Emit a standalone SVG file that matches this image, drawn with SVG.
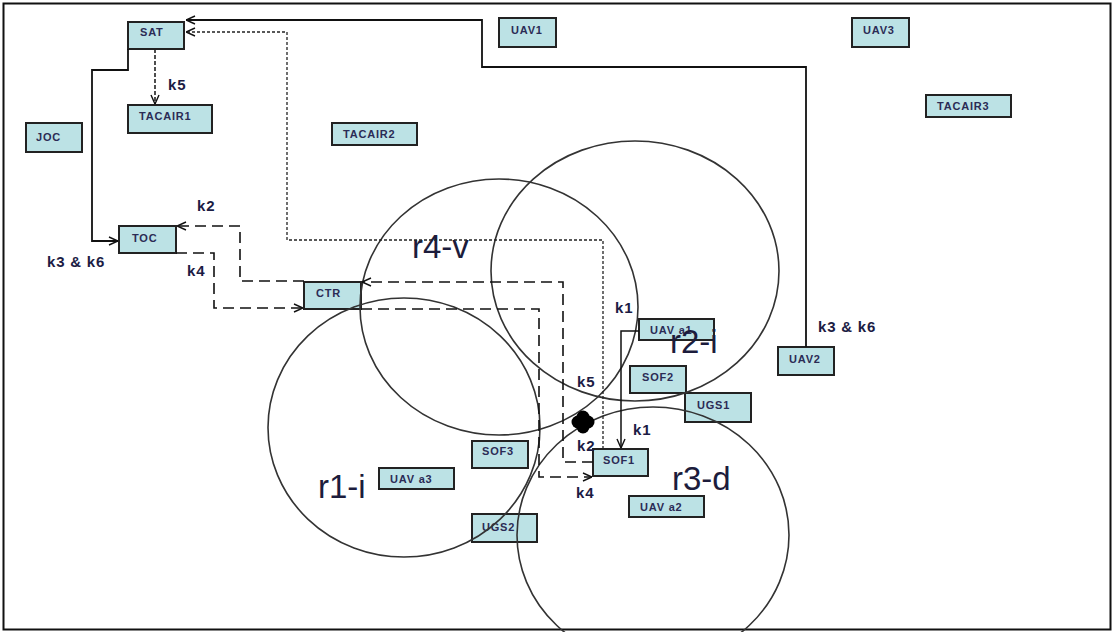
<svg xmlns="http://www.w3.org/2000/svg" width="1115" height="632" viewBox="0 0 1115 632">
<style>
.box{fill:#bce2e5;stroke:#222;stroke-width:2}
.nt{font-family:"Liberation Sans",Arial,sans-serif;font-size:11px;font-weight:bold;fill:#2b2b55;letter-spacing:0.8px}
.kl{font-family:"Liberation Sans",Arial,sans-serif;font-size:15px;font-weight:bold;fill:#1c1c44;letter-spacing:0.8px}
.rl{font-family:"Liberation Sans",Arial,sans-serif;font-size:33px;fill:#1c1c3c}
.ring{fill:none;stroke:#333;stroke-width:1.6}
.solid{fill:none;stroke:#111;stroke-width:1.8}
.sdash{fill:none;stroke:#222;stroke-width:1.6;stroke-dasharray:4 2}
.dot{fill:none;stroke:#222;stroke-width:1.3;stroke-dasharray:3 2}
.ldash{fill:none;stroke:#111;stroke-width:1.6;stroke-dasharray:11 6}
</style>
<defs>
<marker id="arr" viewBox="0 0 10 10" refX="10" refY="5" markerWidth="10" markerHeight="10" markerUnits="userSpaceOnUse" orient="auto">
<path d="M1,1 L10,5 L1,9" fill="none" stroke="#111" stroke-width="1.4"/>
</marker>
</defs>
<rect x="0" y="0" width="1115" height="632" fill="#fff"/>
<rect x="3.5" y="3.5" width="1107" height="626" fill="none" stroke="#111" stroke-width="2"/>

<g id="SAT"><rect class="box" x="128" y="22" width="56" height="27"/><text class="nt" x="140" y="36">SAT</text></g>
<g id="TACAIR1"><rect class="box" x="128" y="105" width="84" height="28"/><text class="nt" x="139" y="120">TACAIR1</text></g>
<g id="JOC"><rect class="box" x="26" y="123" width="56" height="29"/><text class="nt" x="36" y="141">JOC</text></g>
<g id="UAV1"><rect class="box" x="499" y="18" width="57" height="29"/><text class="nt" x="511" y="34">UAV1</text></g>
<g id="TACAIR2"><rect class="box" x="332" y="123" width="85" height="22"/><text class="nt" x="343" y="138">TACAIR2</text></g>
<g id="UAV3"><rect class="box" x="852" y="18" width="57" height="29"/><text class="nt" x="863" y="34">UAV3</text></g>
<g id="TACAIR3"><rect class="box" x="926" y="95" width="85" height="22"/><text class="nt" x="937" y="110">TACAIR3</text></g>
<g id="TOC"><rect class="box" x="119" y="226" width="57" height="27"/><text class="nt" x="132" y="242">TOC</text></g>
<g id="CTR"><rect class="box" x="304" y="282" width="57" height="27"/><text class="nt" x="316" y="297">CTR</text></g>
<g id="UAV_a1"><rect class="box" x="639" y="319" width="75" height="21"/><text class="nt" x="650" y="334">UAV a1</text></g>
<g id="SOF2"><rect class="box" x="630" y="366" width="56" height="27"/><text class="nt" x="642" y="381">SOF2</text></g>
<g id="UGS1"><rect class="box" x="685" y="393" width="66" height="29"/><text class="nt" x="697" y="409">UGS1</text></g>
<g id="SOF1"><rect class="box" x="593" y="449" width="55" height="27"/><text class="nt" x="603" y="464">SOF1</text></g>
<g id="SOF3"><rect class="box" x="472" y="441" width="56" height="27"/><text class="nt" x="482" y="455">SOF3</text></g>
<g id="UAV_a3"><rect class="box" x="379" y="468" width="75" height="21"/><text class="nt" x="390" y="483">UAV a3</text></g>
<g id="UGS2"><rect class="box" x="472" y="514" width="65" height="28"/><text class="nt" x="482" y="531">UGS2</text></g>
<g id="UAV_a2"><rect class="box" x="629" y="496" width="75" height="21"/><text class="nt" x="640" y="511">UAV a2</text></g>
<g id="UAV2"><rect class="box" x="778" y="347" width="56" height="28"/><text class="nt" x="789" y="363">UAV2</text></g>

<g id="regions">
<ellipse class="ring" cx="404" cy="427.5" rx="136" ry="129.5"/>
<ellipse class="ring" cx="499" cy="307" rx="139" ry="128"/>
<ellipse class="ring" cx="635" cy="271" rx="144" ry="130"/>
<ellipse class="ring" cx="653" cy="535" rx="136" ry="128"/>
<text class="rl" x="318" y="498">r1-i</text>
<text class="rl" x="412" y="258">r4-v</text>
<text class="rl" x="670" y="353">r2-i</text>
<text class="rl" x="672" y="490">r3-d</text>
</g>

<g id="connectors">
<path class="solid" d="M806,347 V67 H482 V20 H186" marker-end="url(#arr)"/>
<path class="solid" d="M128,49 V70 H92 V241 H118" marker-end="url(#arr)"/>
<path class="sdash" d="M155,49 V104" marker-end="url(#arr)"/>
<path class="dot" d="M603,449 V240 H287 V32 H186" marker-end="url(#arr)"/>
<path class="ldash" d="M593,462 H563 V282 H362" marker-end="url(#arr)"/>
<path class="ldash" d="M304,281 H240 V226 H177" marker-end="url(#arr)"/>
<path class="ldash" d="M176,253 H214 V308 H303" marker-end="url(#arr)"/>
<path class="ldash" d="M361,309 H539 V477 H592" marker-end="url(#arr)"/>
<path class="solid" d="M639,331 H621 V448" marker-end="url(#arr)" style="stroke-width:1.5"/>
</g>

<g id="blob" fill="#000">
<circle cx="578" cy="422" r="6.5"/><circle cx="588" cy="422" r="6.5"/><circle cx="583" cy="417" r="6.5"/><circle cx="583" cy="427" r="6.5"/>
</g>

<g id="labels">
<text class="kl" x="168" y="90">k5</text>
<text class="kl" x="197" y="211">k2</text>
<text class="kl" x="187" y="276">k4</text>
<text class="kl" x="47" y="267">k3 &amp; k6</text>
<text class="kl" x="818" y="332">k3 &amp; k6</text>
<text class="kl" x="615" y="313">k1</text>
<text class="kl" x="577" y="387">k5</text>
<text class="kl" x="577" y="451">k2</text>
<text class="kl" x="633" y="435">k1</text>
<text class="kl" x="576" y="498">k4</text>
</g>
</svg>
